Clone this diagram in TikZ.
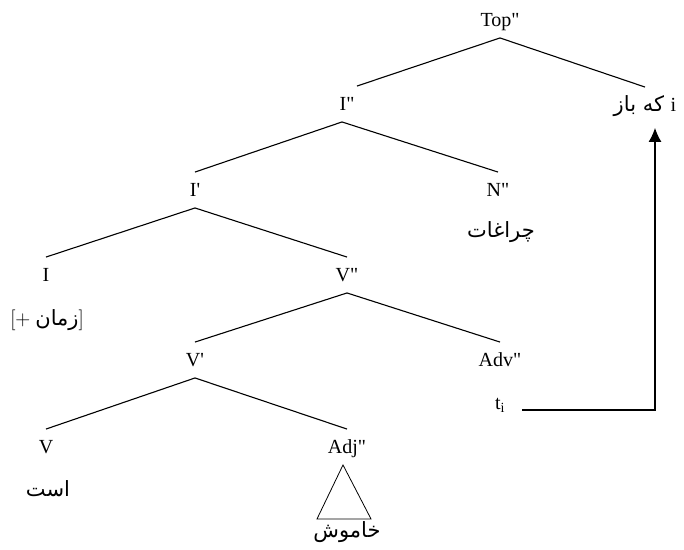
\documentclass[tikz,border=0pt]{standalone}
\usepackage{fontspec}
\setmainfont{Liberation Serif}
\newfontfamily\lat{Liberation Serif}
\newfontfamily\arabicfont[Script=Arabic]{DejaVu Sans}
\TeXXeTstate=1
\usetikzlibrary{arrows.meta}
\newcommand{\latsz}{\lat\fontsize{20}{22}\selectfont}
\newcommand{\fasz}{\arabicfont\fontsize{21}{24}\selectfont}
\begin{document}
\begin{tikzpicture}[x=1pt,y=-1pt,
  lab/.style={font=\latsz, text height=13.5pt, text depth=0pt, inner xsep=0pt, inner ysep=11pt},
  fa/.style={font=\fasz, inner sep=0pt},
  br/.style={line width=1.1pt},
]
\useasboundingbox (0,0) rectangle (684,549);
\node[lab] (top) at (500,20) {Top"};
\node[lab] (ipp) at (347,104) {I"};
\node[lab] (baz) at (645,105) {\fasz\beginR\beginL{\latsz i}\endL{} که باز\endR};
\node[lab] (ip) at (195,190) {I'};
\node[lab] (npp) at (498,190) {N"};
\node[fa] (cheragh) at (501,232) {\beginR چراغات\endR};
\node[lab] (i) at (46,275) {I};
\node[lab] (vpp) at (347,275) {V"};
\node[inner sep=0pt, font=\latsz] (zaman) at (47,320) {$[{+}$\hspace{5pt}\hbox{\fasz\beginR زمان\endR}$]$};
\node[lab] (vp) at (195,360) {V'};
\node[lab] (advpp) at (500,360) {Adv"};
\node[lab, inner xsep=17pt] (ti) at (500,403) {t\textsubscript{i}};
\node[lab] (v) at (46,447) {V};
\node[lab] (adjpp) at (347,447) {Adj"};
\node[fa] (ast) at (48,489) {\beginR است\endR};
\node[fa] (khamush) at (347,532) {\beginR خاموش\endR};

\draw[br] (top.south) -- ([xshift=10pt]ipp.north);
\draw[br] (top.south) -- (baz.north);
\draw[br] ([xshift=-5pt]ipp.south) -- (ip.north);
\draw[br] ([xshift=-5pt]ipp.south) -- (npp.north);
\draw[br] (ip.south) -- (i.north);
\draw[br] (ip.south) -- (vpp.north);
\draw[br] (vpp.south) -- (vp.north);
\draw[br] (vpp.south) -- (advpp.north);
\draw[br] (vp.south) -- (v.north);
\draw[br] (vp.south) -- (adjpp.north);
\draw[line width=0.8pt] ([xshift=-4pt]adjpp.south) -- ++(-26,54) -- ++(54,0) -- cycle;
\draw[br, -{Latex[length=14pt,width=13pt]}] ([yshift=-7pt]ti.east) -| ([xshift=10pt,yshift=-5pt]baz.south);
\end{tikzpicture}
\end{document}
